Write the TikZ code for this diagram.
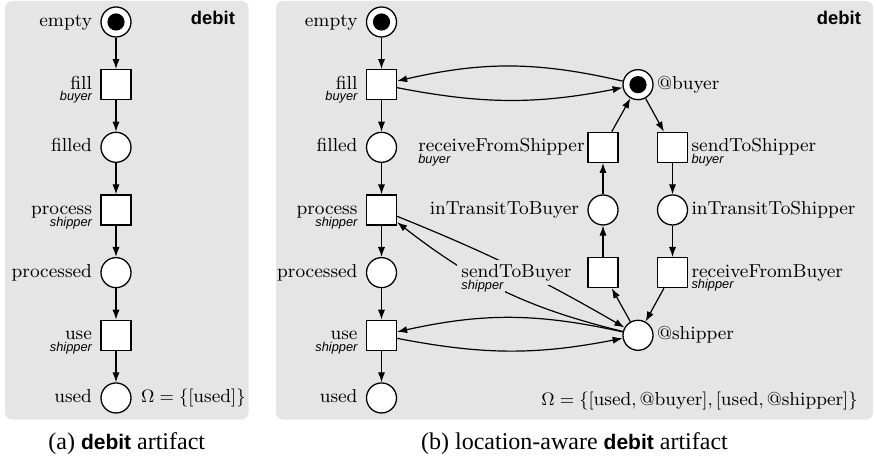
\documentclass[tikz,border=0pt]{standalone}
\usepackage{fontspec}
\newfontfamily\hvfont{Liberation Sans}
\newfontfamily\capfont{Liberation Serif}
\usetikzlibrary{positioning,arrows.meta}

\newcommand{\rolefont}{\hvfont\itshape\fontsize{6.4}{7}\selectfont}
\newcommand{\tname}[3]{\begin{tabular}[t]{@{}#1@{}}#2\\[-5.2pt]{\rolefont #3}\end{tabular}}

\tikzset{
  place/.style={circle,draw,fill=white,line width=0.65pt,minimum size=15pt,inner sep=0pt},
  marked/.style={place,path picture={\fill[black] (path picture bounding box.center) circle (4.3pt);}},
  transition/.style={rectangle,draw,fill=white,line width=0.65pt,minimum size=15pt,inner sep=0pt},
  arc/.style={-{Latex[length=5pt,width=3.6pt]},line width=0.6pt},
  panel/.style={fill=gray!20,rounded corners=3.5pt},
  lab left/.style={label={[anchor=base east,inner sep=0pt,xshift=-4pt,yshift=-2.3pt]left:#1}},
  lab right/.style={label={[anchor=base west,inner sep=0pt,xshift=1.5pt,yshift=-2.3pt]right:#1}},
}

\begin{document}
\begin{tikzpicture}[x=0.5pt,y=0.5pt,node distance=31.33pt,on grid,font=\fontsize{9.4}{11}\selectfont]
\useasboundingbox (0,0) rectangle (876,-459);
\fill[panel] (5,-1) rectangle (248.5,-419.5);
\fill[panel] (276,-1) rectangle (873,-419.5);

\node[anchor=base east,font=\hvfont\bfseries\fontsize{9.2}{11}\selectfont] (headA) at (242,-25) {debit};
\node[marked,lab left=empty] (emptyA) at (116,-22) {};
\node[transition,lab left={\tname{r}{fill}{buyer}},below=of emptyA] (fillA) {};
\node[place,lab left=filled,below=of fillA] (filledA) {};
\node[transition,lab left={\tname{r}{process}{shipper}},below=of filledA] (processA) {};
\node[place,lab left=processed,below=of processA] (processedA) {};
\node[transition,lab left={\tname{r}{use}{shipper}},below=of processedA] (useA) {};
\node[place,lab left=used,label={[anchor=base west,inner sep=0pt,xshift=4.5pt,yshift=-2.3pt]right:$\Omega = \{[\mathrm{used}]\}$},below=of useA] (usedA) {};

\node[anchor=base east,font=\hvfont\bfseries\fontsize{9.2}{11}\selectfont] (headB) at (868,-25) {debit};
\node[marked,lab left=empty] (emptyB) at (381.5,-22) {};
\node[transition,lab left={\tname{r}{fill}{buyer}},below=of emptyB] (fillB) {};
\node[place,lab left=filled,below=of fillB] (filledB) {};
\node[transition,lab left={\tname{r}{process}{shipper}},below=of filledB] (processB) {};
\node[place,lab left=processed,below=of processB] (processedB) {};
\node[transition,lab left={\tname{r}{use}{shipper}},below=of processedB] (useB) {};
\node[place,lab left=used,below=of useB] (usedB) {};
\node[marked,lab right=@buyer,right=128.25pt of fillB] (buyer) {};
\node[transition,label={[anchor=base east,inner sep=0pt,xshift=-1.2pt,yshift=-2.3pt]left:\tname{l}{receiveFromShipper}{buyer}},below left=31.33pt and 17.5pt of buyer] (rfs) {};
\node[transition,lab right={\tname{l}{sendToShipper}{buyer}},below right=31.33pt and 17.25pt of buyer] (sts) {};
\node[place,lab left=inTransitToBuyer,below=of rfs] (itb) {};
\node[place,lab right=inTransitToShipper,below=of sts] (its) {};
\node[transition,below=of itb] (stb) {};
\node[transition,lab right={\tname{l}{receiveFromBuyer}{shipper}},below=of its] (rfb) {};
\node[place,lab right=@shipper,below right=31.33pt and 17.5pt of stb] (ship) {};
\node[anchor=base east,inner sep=0pt] (omegaB) at (858,-405.5) {$\Omega = \{[\mathrm{used}, \mathrm{@buyer}], [\mathrm{used}, \mathrm{@shipper}]\}$};

\path[arc]
  (emptyA) edge (fillA)
  (fillA) edge (filledA)
  (filledA) edge (processA)
  (processA) edge (processedA)
  (processedA) edge (useA)
  (useA) edge (usedA)
  (emptyB) edge (fillB)
  (fillB) edge (filledB)
  (filledB) edge (processB)
  (processB) edge (processedB)
  (processedB) edge (useB)
  (useB) edge (usedB)
  (buyer) edge[bend right=13] (fillB)
  (fillB) edge[bend right=11] (buyer)
  (ship) edge[bend right=12.5] (useB)
  (useB) edge[bend right=11] (ship)
  (processB) edge[bend left=4] (ship)
  (ship) edge[bend left=12] (processB)
  (buyer) edge (sts)
  (sts) edge (its)
  (its) edge (rfb)
  (rfb) edge (ship)
  (ship) edge (stb)
  (stb) edge (itb)
  (itb) edge (rfs)
  (rfs) edge (buyer);

\node[fill=gray!20,inner sep=2pt,anchor=base east] (stbname) at ([xshift=-5.8pt,yshift=-2.3pt]stb.west) {sendToBuyer};
\node[fill=gray!20,inner sep=1pt,anchor=base west,font=\rolefont] (stbrole) at ([xshift=1pt,yshift=-6pt]stbname.base west) {shipper};

\node[anchor=base,font=\capfont\fontsize{12}{14}\selectfont] (capA) at (126.75,-449.5) {(a) {\hvfont\bfseries\fontsize{10.5}{12}\selectfont debit} artifact};
\node[anchor=base,font=\capfont\fontsize{12}{14}\selectfont] (capB) at (574.5,-449.5) {(b) location-aware {\hvfont\bfseries\fontsize{10.5}{12}\selectfont debit} artifact};
\end{tikzpicture}
\end{document}
